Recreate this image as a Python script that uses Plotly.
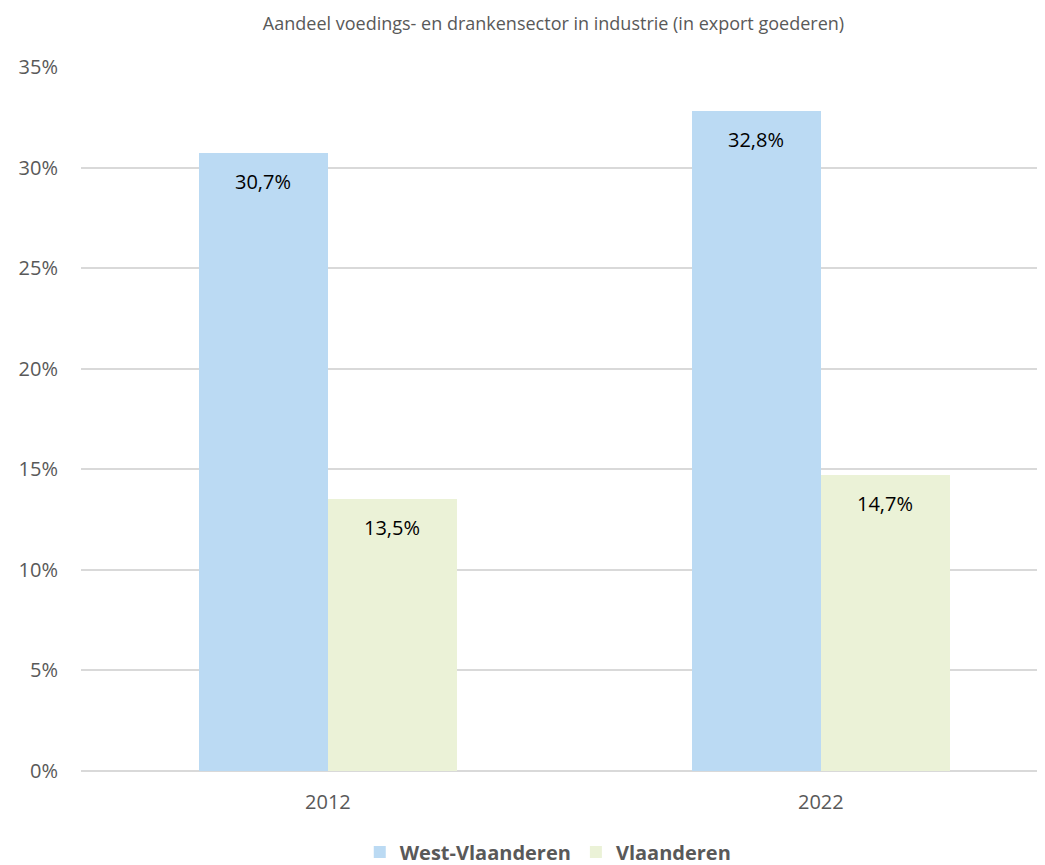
import plotly.graph_objects as go

years = ["2012", "2022"]
west_vlaanderen = [30.7, 32.8]
vlaanderen = [13.5, 14.7]
y_ticks = [0, 5, 10, 15, 20, 25, 30, 35]
title_text = "Aandeel voedings- en drankensector in industrie (in export goederen)"

FONT = "Open Sans"
GRAY = "#595959"
xpos = list(range(len(years)))
BW = 0.2617

fig = go.Figure()
fig.add_trace(go.Bar(x=xpos, y=west_vlaanderen, name="West-Vlaanderen",
                     marker=dict(color="#BBDAF3", line=dict(width=0)),
                     width=BW, offset=-BW))
fig.add_trace(go.Bar(x=xpos, y=vlaanderen, name="Vlaanderen",
                     marker=dict(color="#EBF2D7", line=dict(width=0)),
                     width=BW, offset=0))

for i in xpos:
    for val, dx in ((west_vlaanderen[i], -BW / 2), (vlaanderen[i], BW / 2)):
        fig.add_annotation(x=i + dx, y=val, text=f"{val:.1f}%".replace(".", ","),
                           showarrow=False, yanchor="middle", yshift=-28,
                           font=dict(family=FONT, size=20, color="#000000"))

fig.update_layout(
    width=1045, height=865,
    margin=dict(l=73, r=0, t=59, b=102),
    paper_bgcolor="white", plot_bgcolor="white",
    title=dict(text=title_text, x=0.522, xanchor="center", y=0.9815, yanchor="middle",
               font=dict(family=FONT, size=18, color=GRAY)),
    showlegend=True,
    legend=dict(orientation="h", xref="container", x=0.517, xanchor="center",
                yref="container", y=0.0243, yanchor="middle",
                font=dict(family=FONT, size=20, color=GRAY, weight="bold"),
                traceorder="normal"),
    bargap=0,
)
fig.update_xaxes(range=[-0.501, 1.471], tickvals=xpos, ticktext=years,
                 showgrid=False, zeroline=False, showline=False,
                 ticks="", ticklabelstandoff=17,
                 tickfont=dict(family=FONT, size=20, color=GRAY))
fig.update_yaxes(range=[0, 35], tickvals=y_ticks,
                 ticktext=[f"{v}%" for v in y_ticks],
                 showgrid=True, gridcolor="#D9D9D9", gridwidth=1.5,
                 zeroline=True, zerolinecolor="#D9D9D9", zerolinewidth=1.5,
                 showline=False, ticks="", ticklabelstandoff=22,
                 tickfont=dict(family=FONT, size=20, color=GRAY))

fig.write_html("out.html")
